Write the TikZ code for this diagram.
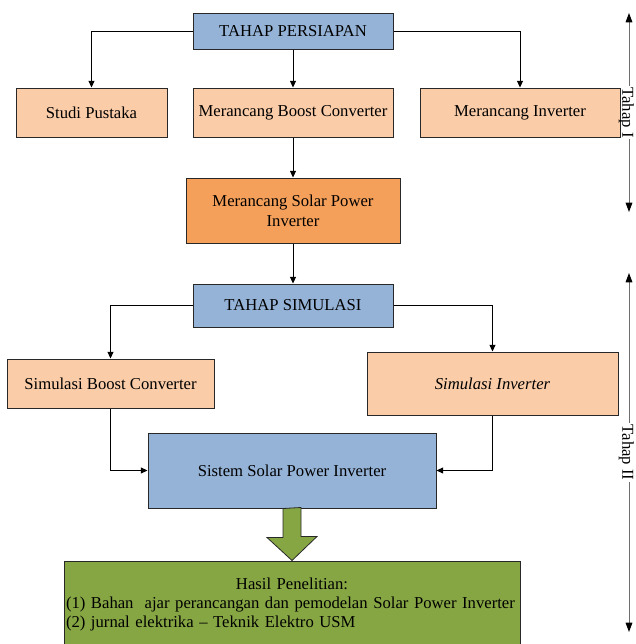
\documentclass[tikz,border=0pt]{standalone}
\usepackage{fontspec}
\setmainfont{Liberation Serif}
\usetikzlibrary{arrows.meta, positioning, calc}
\definecolor{myblue}{RGB}{149,179,215}
\definecolor{mypeach}{RGB}{250,204,168}
\definecolor{myorange}{RGB}{245,160,90}
\definecolor{mygreen}{RGB}{134,166,68}
\definecolor{mydark}{RGB}{40,40,40}
\definecolor{mygray}{RGB}{110,110,110}
\tikzset{
  box/.style={rectangle, draw=mydark, line width=0.75pt,
    align=center, inner sep=1pt, font=\fontsize{12.5}{15}\selectfont},
  bluebox/.style={box, fill=myblue},
  peachbox/.style={box, fill=mypeach},
  orangebox/.style={box, fill=myorange},
  greenbox/.style={box, fill=mygreen},
  arrow/.style={-{Triangle[length=5pt,width=4.5pt]}, line width=0.6pt, color=black},
  bigarrow/.style={draw=mydark, fill=mygreen, line width=0.6pt},
  tahaptip/.tip={Triangle[length=7pt,width=5pt,color=black]},
  tahapline/.style={line width=0.75pt, color=mygray},
  tahaplabel/.style={rotate=-90, inner xsep=1pt, inner ysep=0pt, text=black,
    font=\fontsize{12.5}{15}\selectfont}
}

\begin{document}
\begin{tikzpicture}[x=0.75pt, y=-0.75pt]
  \useasboundingbox (0,0) rectangle (636,644);

  % Tahap I
  \node[bluebox, minimum width=150pt, minimum height=27pt] (persiapan) at (293,31) {TAHAP PERSIAPAN};
  \node[peachbox, minimum width=113.25pt, minimum height=36.75pt] (studi) at (91.5,112.5) {Studi Pustaka};
  \node[peachbox, minimum width=150pt, minimum height=36.75pt] (boost) at (293,112.5) {Merancang Boost Converter};
  \node[peachbox, minimum width=150pt, minimum height=36.75pt] (inverter) at (520,112.5) {Merancang Inverter};
  \node[orangebox, minimum width=160.5pt, minimum height=48.75pt] (solar) at (293,210.5) {Merancang Solar Power\\Inverter};

  \draw[arrow] (persiapan.west) -| (studi.north);
  \draw[arrow] (persiapan.east) -| (inverter.north);
  \draw[arrow] (persiapan) -- (boost);
  \draw[arrow] (boost) -- (solar);

  % Tahap II
  \node[bluebox, minimum width=150pt, minimum height=32.25pt] (simulasi) at (293,305.5) {TAHAP SIMULASI};
  \node[peachbox, minimum width=155.25pt, minimum height=36.75pt] (simboost) at (110.5,383.5) {Simulasi Boost Converter};
  \node[peachbox, minimum width=188.25pt, minimum height=47.25pt] (siminv) at (492.5,383.5) {\itshape Simulasi Inverter};
  \node[bluebox, minimum width=216pt, minimum height=56.25pt] (sistem) at (292,470.5) {Sistem Solar Power Inverter};
  \node[greenbox, text width=339pt, inner xsep=1.5pt, minimum height=64.5pt, align=left,
    font=\fontsize{12.5}{14.25}\selectfont] (hasil) at (292,604)
    {\makebox[\hsize]{Hasil Penelitian:}\\
     (1) Bahan\ \ ajar perancangan dan pemodelan Solar Power Inverter\\
     (2) jurnal elektrika -- Teknik Elektro USM};

  \draw[arrow] (solar) -- (simulasi);
  \draw[arrow] (simulasi.west) -| (simboost.north);
  \draw[arrow] (simulasi.east) -| (siminv.north);
  \draw[arrow] (simboost.south) |- (sistem.west);
  \draw[arrow] (siminv.south) |- (sistem.east);
  \draw[bigarrow] ($(sistem.south)+(-9,0)$) -- ++(0,29) -- ++(-16,0)
    -- (hasil.north) -- ++(25,-24) -- ++(-16,0) -- ++(0,-29) -- cycle;

  % tahap
  \coordinate (t1a) at (629,13);
  \coordinate (t1b) at (629,212);
  \coordinate (t2a) at (629,273);
  \coordinate (t2b) at (629,632);
  \node[tahaplabel] (tahap1) at ($(t1a)!0.5!(t1b)+(-2.5,0)$) {Tahap I};
  \node[tahaplabel] (tahap2) at ($(t2a)!0.5!(t2b)+(-2.5,0)$) {Tahap II};
  \draw[tahapline, tahaptip-] (t1a) -- (t1a |- tahap1.west);
  \draw[tahapline, -tahaptip] (t1b |- tahap1.east) -- (t1b);
  \draw[tahapline, tahaptip-] (t2a) -- (t2a |- tahap2.west);
  \draw[tahapline, -tahaptip] (t2b |- tahap2.east) -- (t2b);
\end{tikzpicture}
\end{document}
